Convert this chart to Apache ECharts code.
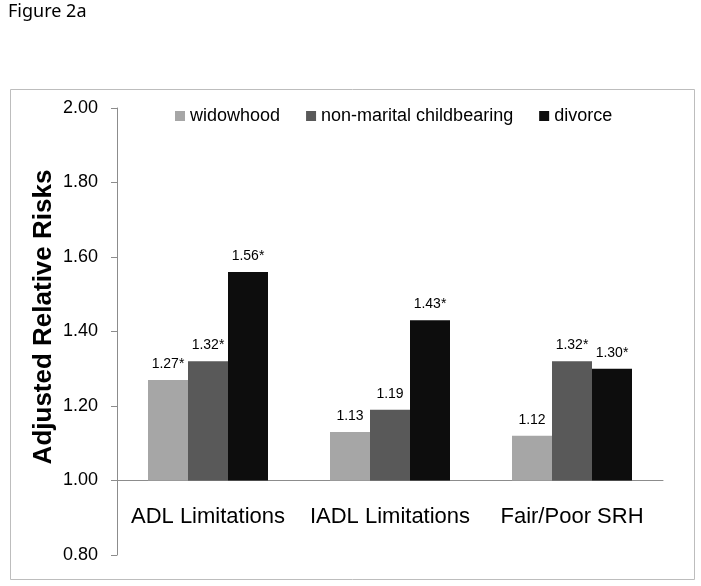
<!DOCTYPE html>
<html>
<head>
<meta charset="utf-8">
<script src="https://cdn.jsdelivr.net/npm/echarts@6/dist/echarts.min.js"></script>
<style>
html,body{margin:0;padding:0;background:#fff;}
#chart{width:701px;height:586px;}
</style>
</head>
<body>
<div id="chart"></div>
<script>
// ---- data ----
const categories = ['ADL Limitations', 'IADL Limitations', 'Fair/Poor SRH'];
const seriesNames = ['widowhood', 'non-marital childbearing', 'divorce'];
const widowhood = [1.27, 1.13, 1.12];
const nonMarital = [1.32, 1.19, 1.32];
const divorce = [1.56, 1.43, 1.30];
const widowhoodSig = [true, false, false];
const nonMaritalSig = [true, false, true];
const divorceSig = [true, true, true];
const yMin = 0.80, yMax = 2.00, yStep = 0.20;
const baseline = 1.00;
const figureTitle = 'Figure 2a';
const yTitle = 'Adjusted Relative Risks';

const colors = ['#a6a6a6', '#595959', '#0d0d0d'];
const FONT = '"Liberation Sans", Arial, sans-serif';

const chart = echarts.init(document.getElementById('chart'), null, {renderer: 'canvas'});

const gridTop = 108, gridBottomPx = 555, gridLeft = 117, gridRight = 663;
const plotH = gridBottomPx - gridTop;
const axisOffset = plotH * (baseline - yMin) / (yMax - yMin);

const groups = [
  {name: seriesNames[0], vals: widowhood, sig: widowhoodSig},
  {name: seriesNames[1], vals: nonMarital, sig: nonMaritalSig},
  {name: seriesNames[2], vals: divorce, sig: divorceSig}
];

const series = [];
groups.forEach((g, i) => {
  series.push({
    type: 'bar', stack: 's' + i, silent: true,
    data: categories.map(() => baseline),
    itemStyle: {color: 'rgba(0,0,0,0)'},
    barWidth: 40, barGap: '0%',
    tooltip: {show: false}
  });
  series.push({
    name: g.name, type: 'bar', stack: 's' + i,
    data: g.vals.map(v => +(v - baseline).toFixed(4)),
    itemStyle: {color: colors[i]},
    barWidth: 40, barGap: '0%',
    label: {
      show: true, position: 'top', distance: 9,
      fontFamily: FONT, fontSize: 14, color: '#000',
      formatter: p => g.vals[p.dataIndex].toFixed(2) + (g.sig[p.dataIndex] ? '*' : '')
    }
  });
});

chart.setOption({
  animation: false,
  backgroundColor: '#fff',
  textStyle: {fontFamily: FONT},
  grid: {left: gridLeft, right: 701 - gridRight, top: gridTop, bottom: 586 - gridBottomPx, containLabel: false},
  legend: {
    data: seriesNames,
    left: 170, top: 102,
    icon: 'rect', itemWidth: 10, itemHeight: 10, itemGap: 26,
    textStyle: {fontFamily: FONT, fontSize: 18, color: '#000'},
    selectedMode: false
  },
  xAxis: {
    type: 'category', data: categories,
    offset: -axisOffset,
    axisLine: {show: true, lineStyle: {color: '#8c8c8c', width: 1}},
    axisTick: {show: false},
    axisLabel: {interval: 0, fontFamily: FONT, fontSize: 22, color: '#000', margin: 25}
  },
  yAxis: {
    type: 'value', min: yMin, max: yMax, interval: yStep,
    splitLine: {show: false},
    axisLine: {show: true, lineStyle: {color: '#8c8c8c', width: 1}},
    axisTick: {show: true, inside: false, length: 6, lineStyle: {color: '#8c8c8c'}},
    axisLabel: {fontFamily: FONT, fontSize: 18, color: '#000', margin: 19,
      formatter: v => v.toFixed(2)}
  },
  graphic: [
    {type: 'rect', left: 8, top: 87, shape: {width: 684, height: 490},
      style: {fill: 'none', stroke: '#bdbdbd', lineWidth: 1}, silent: true, z: -1},
    {type: 'text', x: 8, y: 3,
      style: {text: figureTitle, fontFamily: '"Noto Sans", sans-serif', fontSize: 18, fill: '#000'}},
    {type: 'text', x: 44, y: 317, rotation: Math.PI / 2,
      style: {text: yTitle, fontFamily: FONT, fontSize: 26, fontWeight: 'bold', fill: '#000',
        align: 'center', verticalAlign: 'middle'}}
  ],
  series: series
});
</script>
</body>
</html>
